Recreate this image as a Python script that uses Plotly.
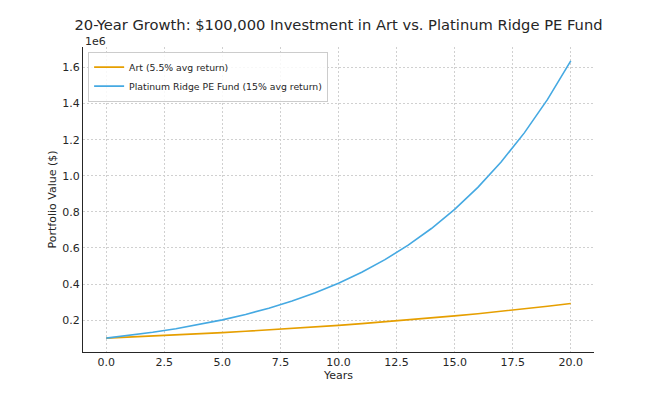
import plotly.graph_objects as go

years = list(range(21))
art_values = [100000, 105500, 111303, 117424, 123882, 130696, 137884, 145468, 153469,
              161909, 170814, 180209, 190121, 200577, 211609, 223248, 235526, 248480,
              262147, 276565, 291776]
pe_values = [100000, 115000, 132250, 152088, 174901, 201136, 231306, 266002, 305902,
             351788, 404556, 465239, 535025, 615279, 707571, 813706, 935762, 1076126,
             1237545, 1423177, 1636654]
y_tick_vals = [200000, 400000, 600000, 800000, 1000000, 1200000, 1400000, 1600000]
y_tick_text = ["0.2", "0.4", "0.6", "0.8", "1.0", "1.2", "1.4", "1.6"]
x_tick_vals = [0, 2.5, 5, 7.5, 10, 12.5, 15, 17.5, 20]
x_tick_text = ["0.0", "2.5", "5.0", "7.5", "10.0", "12.5", "15.0", "17.5", "20.0"]

fig = go.Figure()
fig.add_trace(go.Scatter(x=years, y=art_values, mode="lines", name="Art (5.5% avg return)",
                         line=dict(color="#E69F00", width=1.6)))
fig.add_trace(go.Scatter(x=years, y=pe_values, mode="lines",
                         name="Platinum Ridge PE Fund (15% avg return)",
                         line=dict(color="#45A9E2", width=1.6)))

fig.update_layout(
    width=660, height=396,
    margin=dict(l=75, r=74, t=39, b=52, autoexpand=False),
    paper_bgcolor="white", plot_bgcolor="white",
    font=dict(family="DejaVu Sans", size=11, color="#262626"),
    title=dict(text="20-Year Growth: $100,000 Investment in Art vs. Platinum Ridge PE Fund",
               x=0.5, xanchor="center", xref="paper", y=0.957, yref="container",
               yanchor="middle",
               font=dict(size=14.7, color="#262626")),
    xaxis=dict(range=[-1, 21], tickvals=x_tick_vals, ticktext=x_tick_text,
               showline=True, linecolor="#262626", linewidth=1, mirror=False,
               ticks="", automargin=False,
               showgrid=True, gridcolor="#d0d0d0", griddash="2px,2px", gridwidth=0.8,
               zeroline=False,
               title=dict(text="Years", font=dict(size=11), standoff=3)),
    yaxis=dict(range=[23200, 1713500], tickvals=y_tick_vals, ticktext=y_tick_text,
               showline=True, linecolor="#262626", linewidth=1, mirror=False,
               ticks="", automargin=False,
               showgrid=True, gridcolor="#d0d0d0", griddash="2px,2px", gridwidth=0.8,
               zeroline=False,
               title=dict(text="Portfolio Value ($)", font=dict(size=11), standoff=3)),
    legend=dict(x=0.01, y=0.985, xanchor="left", yanchor="top",
                bgcolor="rgba(255,255,255,0.85)", bordercolor="#cccccc", borderwidth=1,
                font=dict(size=9.3), tracegroupgap=0, itemwidth=30),
    showlegend=True,
)
fig.add_annotation(text="1e6", xref="paper", yref="paper", x=0, y=1.0,
                   xanchor="left", yanchor="bottom", showarrow=False,
                   font=dict(size=11, color="#262626"), yshift=-3)

fig.write_html("out.html")
